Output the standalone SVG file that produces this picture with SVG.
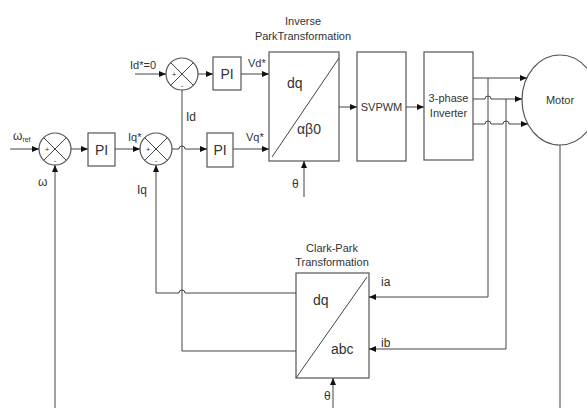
<svg xmlns="http://www.w3.org/2000/svg" width="587" height="408" viewBox="0 0 587 408">
<defs>
<marker id="arr" markerWidth="8" markerHeight="6" refX="7" refY="3" orient="auto" markerUnits="userSpaceOnUse">
<path d="M0,0 L7,3 L0,6 Z" fill="#111"/>
</marker>
<style>
.box{fill:#fff;stroke:#555;stroke-width:1.2}
.ln{fill:none;stroke:#444;stroke-width:1}
.ar{fill:none;stroke:#444;stroke-width:1;marker-end:url(#arr)}
.t{font-family:"Liberation Sans",Arial,sans-serif;fill:#333}
.s{font-size:11px}
.m{font-size:12px}
.l{font-size:14px}
.c{text-anchor:middle}
.sg{font-family:"Liberation Sans",Arial,sans-serif;font-size:8px;fill:#333;text-anchor:middle}
</style>
</defs>
<rect width="587" height="408" fill="#fff"/>

<g id="sum1">
<circle cx="55" cy="149" r="16" class="box"/>
<path d="M43.7,137.7 L66.3,160.3 M66.3,137.7 L43.7,160.3" class="ln"/>
<text x="47" y="152" class="sg">+</text>
<text x="55" y="163" class="sg">-</text>
</g>
<g id="sum2">
<circle cx="156" cy="149" r="16" class="box"/>
<path d="M144.7,137.7 L167.3,160.3 M167.3,137.7 L144.7,160.3" class="ln"/>
<text x="148" y="152" class="sg">+</text>
<text x="156" y="163" class="sg">-</text>
</g>
<g id="sum3">
<circle cx="182" cy="74" r="16" class="box"/>
<path d="M170.7,62.7 L193.3,85.3 M193.3,62.7 L170.7,85.3" class="ln"/>
<text x="174" y="77" class="sg">+</text>
<text x="182" y="88" class="sg">-</text>
</g>
<g id="pi1">
<rect x="88" y="133" width="27" height="33" class="box"/>
<text x="101.5" y="155" class="t l c">PI</text>
</g>
<g id="pi2">
<rect x="213" y="57" width="28" height="33" class="box"/>
<text x="227" y="79" class="t l c">PI</text>
</g>
<g id="pi3">
<rect x="207" y="133" width="26" height="34" class="box"/>
<text x="220" y="155" class="t l c">PI</text>
</g>
<g id="invpark">
<text x="303" y="25" class="t s c">Inverse</text>
<text x="303" y="40" class="t s c">ParkTransformation</text>
<rect x="269" y="52" width="70" height="109" class="box"/>
<path d="M272,157 L339,58" class="ln"/>
<text x="287" y="88" class="t l">dq</text>
<text x="297" y="134" class="t l">αβ0</text>
</g>
<g id="svpwm">
<rect x="357" y="52" width="49" height="109" class="box"/>
<text x="381.5" y="111" class="t s c">SVPWM</text>
</g>
<g id="inverter">
<rect x="424" y="52" width="49" height="108" class="box"/>
<text x="448.5" y="102" class="t s c">3-phase</text>
<text x="448.5" y="117" class="t s c">Inverter</text>
</g>
<g id="motor">
<ellipse cx="560" cy="100" rx="38" ry="45" class="box"/>
<text x="560" y="104" class="t s c">Motor</text>
</g>
<g id="clarkpark">
<text x="332" y="252" class="t s c">Clark-Park</text>
<text x="332" y="266" class="t s c">Transformation</text>
<rect x="296" y="273" width="73" height="105" class="box"/>
<path d="M296,378 L367,277" class="ln"/>
<text x="313" y="305" class="t l">dq</text>
<text x="331" y="354" class="t l">abc</text>
</g>

<g id="connectors">
<path d="M10,149 L39,149" class="ar"/>
<path d="M71,149 L88,149" class="ar"/>
<path d="M115,149 L140,149" class="ar"/>
<path d="M55,408 L55,165" class="ar"/>
<path d="M172,149 L179,149 A3,3 0 0 1 185,149 L207,149" class="ar"/>
<path d="M233,149 L269,149" class="ar"/>
<path d="M135,74 L166,74" class="ar"/>
<path d="M198,74 L213,74" class="ar"/>
<path d="M241,74 L269,74" class="ar"/>
<path d="M304,197 L304,161" class="ar"/>
<path d="M339,107 L357,107" class="ar"/>
<path d="M406,107 L424,107" class="ar"/>
<path d="M473,78 L527,78" class="ar"/>
<path d="M473,99 L485,99 A3,3 0 0 1 491,99 L522,99" class="ar"/>
<path d="M473,124 L485,124 A3,3 0 0 1 491,124 L503,124 A3,3 0 0 1 509,124 L528,124" class="ar"/>
<path d="M488,78 L488,297 L369,297" class="ar"/>
<path d="M506,99 L506,349 L369,349" class="ar"/>
<path d="M560,145 L560,408" class="ln"/>
<path d="M333,408 L333,378" class="ar"/>
<path d="M296,293 L185,293 A3,3 0 0 0 179,293 L156,293 L156,165" class="ar"/>
<path d="M182,90 L182,351 L296,351" class="ln"/>
</g>

<g id="labels">
<text x="13" y="140" class="t m">ω<tspan font-size="7" dy="2">ref</tspan></text>
<text x="38" y="186" class="t m">ω</text>
<text x="128" y="141" class="t s">Iq*</text>
<text x="137" y="194" class="t m">Iq</text>
<text x="130" y="69" class="t s">Id*=0</text>
<text x="186" y="121" class="t m">Id</text>
<text x="248" y="67" class="t s">Vd*</text>
<text x="246" y="141" class="t s">Vq*</text>
<text x="292" y="188" class="t m">θ</text>
<text x="381" y="286" class="t m">ia</text>
<text x="381" y="347" class="t m">ib</text>
<text x="324" y="400" class="t m">θ</text>
</g>
</svg>
